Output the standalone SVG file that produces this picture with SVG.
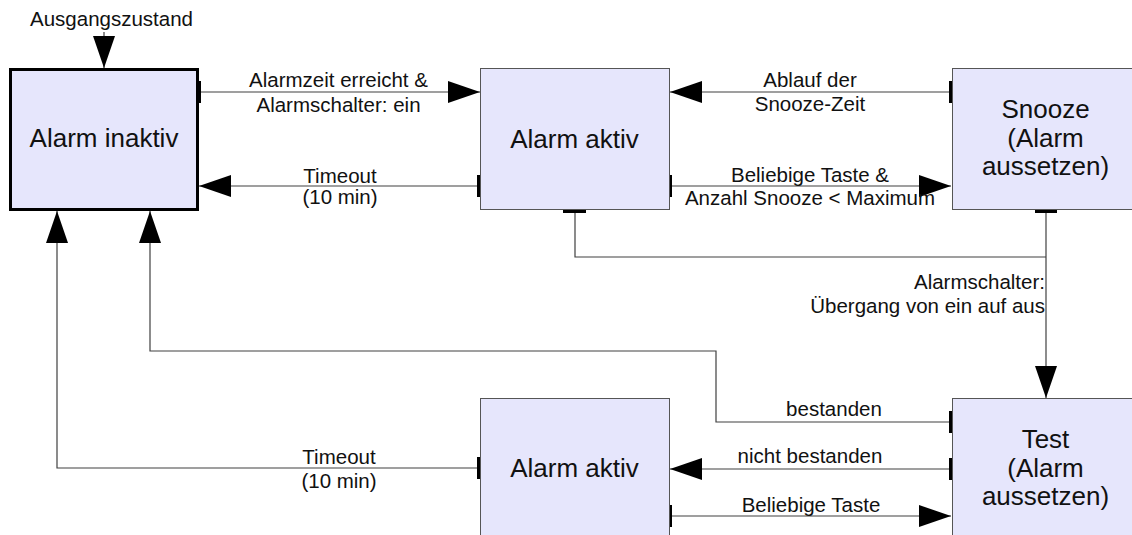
<svg xmlns="http://www.w3.org/2000/svg" width="1132" height="535" viewBox="0 0 1132 535">
<defs>
<marker id="ah" markerUnits="userSpaceOnUse" markerWidth="33" markerHeight="23" refX="32" refY="11" orient="auto" viewBox="0 0 33 23">
<path d="M0,0 L32,11 L0,22 z" fill="#000"/>
</marker>
<style>
.node{fill:#e6e6fc;stroke:#555;stroke-width:1}
.start{fill:#e6e6fc;stroke:#000;stroke-width:3}
.nl{font-family:"Liberation Sans",Arial,sans-serif;font-size:26px;fill:#111;text-anchor:middle}
.el{font-family:"Liberation Sans",Arial,sans-serif;font-size:20.5px;fill:#111;text-anchor:middle}
.conn{fill:none;stroke:#404040;stroke-width:1.2}
.arr{marker-end:url(#ah)}
.tick{stroke:#000;stroke-width:3}
</style>
</defs>
<rect width="1132" height="535" fill="#fff"/>

<g id="connectors">
<line class="conn arr" x1="104" y1="32" x2="104" y2="68"/>
<line class="conn arr" x1="199" y1="92" x2="480" y2="92"/>
<line class="conn arr" x1="479" y1="186" x2="199" y2="186"/>
<line class="conn arr" x1="951" y1="92" x2="670" y2="92"/>
<line class="conn arr" x1="670" y1="186" x2="951" y2="186"/>
<polyline class="conn" points="575,211 575,257 1046,257"/>
<line class="conn arr" x1="1046" y1="211" x2="1046" y2="398"/>
<polyline class="conn arr" points="951,422 716,422 716,351 150,351 150,211"/>
<polyline class="conn arr" points="479,468 57,468 57,211"/>
<line class="conn arr" x1="951" y1="469" x2="670" y2="469"/>
<line class="conn arr" x1="670" y1="516" x2="951" y2="516"/>
<line class="tick" x1="199.5" y1="81" x2="199.5" y2="103"/>
<line class="tick" x1="478.5" y1="175" x2="478.5" y2="197"/>
<line class="tick" x1="950.5" y1="81" x2="950.5" y2="103"/>
<line class="tick" x1="670.5" y1="175" x2="670.5" y2="197"/>
<line class="tick" x1="563" y1="211.5" x2="586" y2="211.5"/>
<line class="tick" x1="1035" y1="211.5" x2="1057" y2="211.5"/>
<line class="tick" x1="950.5" y1="411" x2="950.5" y2="433"/>
<line class="tick" x1="950.5" y1="458" x2="950.5" y2="480"/>
<line class="tick" x1="670.5" y1="505" x2="670.5" y2="527"/>
<line class="tick" x1="478.5" y1="457" x2="478.5" y2="479"/>
<text class="el" x="111.5" y="26">Ausgangszustand</text>
<text class="el" x="338.5" y="87">Alarmzeit erreicht &amp;</text>
<text class="el" x="338.5" y="112">Alarmschalter: ein</text>
<text class="el" x="340" y="183">Timeout</text>
<text class="el" x="340" y="204">(10 min)</text>
<text class="el" x="810" y="87">Ablauf der</text>
<text class="el" x="810" y="111">Snooze-Zeit</text>
<text class="el" x="810" y="182">Beliebige Taste &amp;</text>
<text class="el" x="810" y="205">Anzahl Snooze &lt; Maximum</text>
<text class="el" x="1045" y="289" style="text-anchor:end">Alarmschalter:</text>
<text class="el" x="1045" y="313" style="text-anchor:end">Übergang von ein auf aus</text>
<text class="el" x="834" y="416">bestanden</text>
<text class="el" x="810" y="463">nicht bestanden</text>
<text class="el" x="811" y="512">Beliebige Taste</text>
<text class="el" x="339" y="464">Timeout</text>
<text class="el" x="339" y="488">(10 min)</text>
</g>

<g id="alarm-inaktiv">
<rect class="start" x="10.5" y="69.5" width="187" height="140"/>
<text class="nl" x="104" y="147">Alarm inaktiv</text>
</g>
<g id="alarm-aktiv-1">
<rect class="node" x="480.5" y="68.5" width="189" height="141"/>
<text class="nl" x="574.5" y="148">Alarm aktiv</text>
</g>
<g id="snooze">
<rect class="node" x="952.5" y="68.5" width="189" height="141"/>
<text class="nl" x="1045.5" y="118">Snooze</text>
<text class="nl" x="1045.5" y="147">(Alarm</text>
<text class="nl" x="1045.5" y="175">aussetzen)</text>
</g>
<g id="alarm-aktiv-2">
<rect class="node" x="480.5" y="398.5" width="189" height="150"/>
<text class="nl" x="574.5" y="477">Alarm aktiv</text>
</g>
<g id="test">
<rect class="node" x="952.5" y="398.5" width="189" height="150"/>
<text class="nl" x="1045.5" y="448">Test</text>
<text class="nl" x="1045.5" y="477">(Alarm</text>
<text class="nl" x="1045.5" y="505">aussetzen)</text>
</g>
</svg>
